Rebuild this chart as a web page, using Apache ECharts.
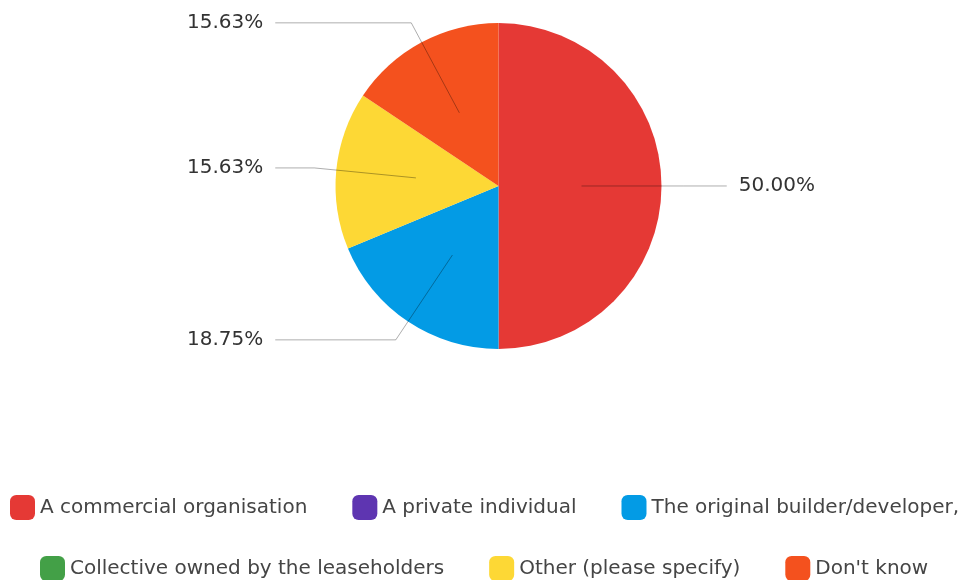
<!DOCTYPE html>
<html>
<head>
<meta charset="utf-8">
<script src="https://cdn.jsdelivr.net/npm/echarts@6/dist/echarts.min.js"></script>
<style>
  html, body { margin: 0; padding: 0; background: #ffffff; }
  #chart { width: 962px; height: 580px; }
</style>
</head>
<body>
<div id="chart"></div>
<script>
// Who owns the freehold – share of respondents (%)
const categories = [
  'A commercial organisation',
  'A private individual',
  'The original builder/developer,',
  'Collective owned by the leaseholders',
  'Other (please specify)',
  "Don't know"
];
const shares = [50.00, 0, 18.75, 0, 15.63, 15.63];
const sliceColors = ['#E53935', '#5E35B1', '#039BE5', '#43A047', '#FDD835', '#F4511E'];
// Legend is split into two centred rows
const legendRow1 = [0, 1, 2];
const legendRow2 = [3, 4, 5];

const FONT = 'DejaVu Sans';
const CENTER_X = 498.5;
const CENTER_Y = 186;
// Horizontal band that the percentage labels are pinned to
const LABEL_LEFT = 187;
const LABEL_RIGHT = 815;

const pieData = categories.map((name, i) => ({
  name,
  value: shares[i],
  itemStyle: { color: sliceColors[i] }
}));

// Transparent inner ring that only carries the leader lines and percentages,
// so each line starts inside its slice.
const labelData = categories.map((name, i) => ({
  name,
  value: shares[i],
  itemStyle: { color: 'rgba(0,0,0,0)' },
  label: { show: shares[i] > 0 },
  labelLine: { show: shares[i] > 0 }
}));

const legendCommon = {
  orient: 'horizontal',
  itemWidth: 25,
  itemHeight: 25,
  itemGap: 45,
  icon: 'roundRect',
  padding: [5, 0],
  selectedMode: false,
  textStyle: { fontFamily: FONT, fontSize: 20, color: '#454545' }
};

const chart = echarts.init(document.getElementById('chart'), null, { renderer: 'canvas' });
chart.setOption({
  animation: false,
  backgroundColor: '#ffffff',
  legend: [
    Object.assign({}, legendCommon, { left: 10, top: 490, data: legendRow1.map(i => categories[i]) }),
    Object.assign({}, legendCommon, { left: 40, top: 551, data: legendRow2.map(i => categories[i]) })
  ],
  series: [
    {
      type: 'pie',
      z: 1,
      center: [CENTER_X, CENTER_Y],
      radius: 163,
      startAngle: 90,
      clockwise: true,
      label: { show: false },
      labelLine: { show: false },
      emphasis: { disabled: true },
      data: pieData
    },
    {
      type: 'pie',
      z: 4,
      left: LABEL_LEFT,
      right: 962 - LABEL_RIGHT,
      top: 0,
      bottom: 0,
      center: [CENTER_X - LABEL_LEFT, CENTER_Y],
      radius: 83,
      startAngle: 90,
      clockwise: true,
      silent: true,
      legendHoverLink: false,
      avoidLabelOverlap: true,
      emphasis: { disabled: true },
      label: {
        show: true,
        position: 'outside',
        alignTo: 'edge',
        edgeDistance: 0,
        distanceToLabelLine: 12,
        fontFamily: FONT,
        fontSize: 20,
        color: '#333333',
        formatter: p => p.value.toFixed(2) + '%'
      },
      labelLine: {
        show: true,
        length: 102,
        length2: 10,
        smooth: false,
        lineStyle: { color: 'rgba(0,0,0,0.32)', width: 1 }
      },
      data: labelData
    }
  ]
});
</script>
</body>
</html>
